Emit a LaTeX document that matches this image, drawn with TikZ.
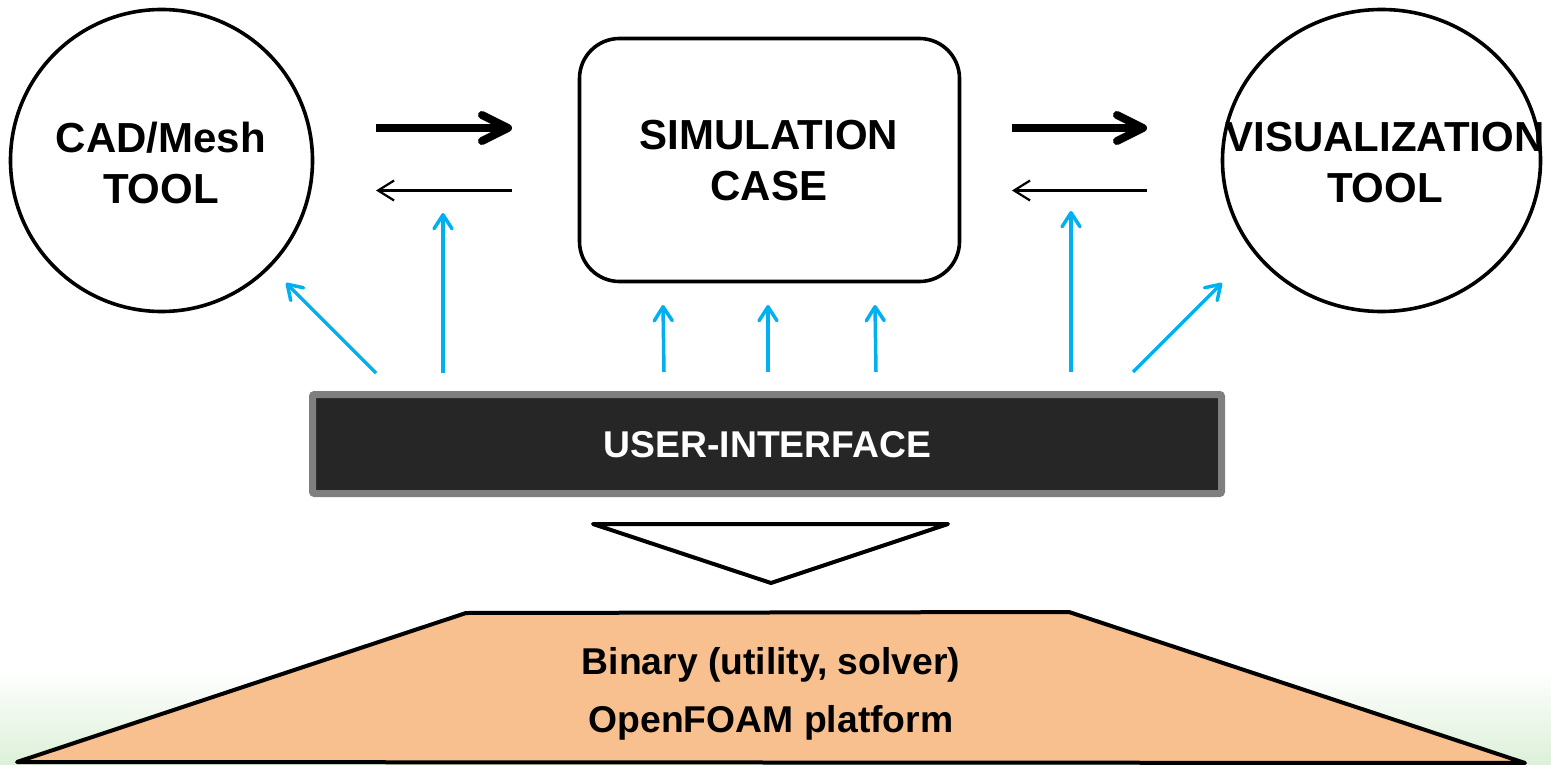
\documentclass[tikz,border=0pt]{standalone}
\usepackage{fontspec}
\setmainfont{Liberation Sans}
\usetikzlibrary{arrows.meta,shapes.geometric}
\definecolor{uiblue}{RGB}{0,176,240}
\definecolor{barfill}{RGB}{38,38,38}
\definecolor{barrim}{RGB}{127,127,127}
\definecolor{basefill}{RGB}{248,192,143}
\definecolor{groundgreen}{RGB}{220,240,216}
\tikzset{
  toolshape/.style={draw, line width=3.6pt, inner sep=0pt, outer sep=0pt},
  bigtext/.style={font=\fontsize{42}{51}\selectfont\bfseries, align=center},
  labeltext/.style={font=\fontsize{37.3}{44}\selectfont\bfseries, anchor=base},
  flowfwd/.style={line width=8pt, -{Straight Barb[length=26pt,width=26pt,round]}},
  flowback/.style={line width=2.2pt, -{Straight Barb[length=16pt,width=20pt]}},
  control/.style={uiblue, line width=3.5pt, -{Straight Barb[length=14pt,width=18pt,round]}},
  outline/.style={draw, line width=4pt, line join=round},
}
\begin{document}
\begin{tikzpicture}[x=1pt,y=-1pt]
\useasboundingbox (0,0) rectangle (1551,765);
% soft green ground at the foot of the page
\shade[top color=white, bottom color=groundgreen] (0,670) rectangle (1551,765);

% the three tools / case
\node[toolshape, circle, minimum size=302pt] (cad) at (161.5,160.5) {};
\node[bigtext] (cadtext) at (161,162.5) {CAD/Mesh\\TOOL};
\node[toolshape, rectangle, rounded corners=40pt, minimum width=380pt, minimum height=243pt] (case) at (769.5,160) {};
\node[bigtext] (casetext) at (769,160.5) {SIMULATION\\CASE};
\node[toolshape, ellipse, minimum width=318pt, minimum height=302pt] (vis) at (1381.5,160.5) {};
\node[bigtext] (vistext) at (1385,162.5) {VISUALIZATION\\TOOL};

% data flow between tools
\coordinate (f1s) at (376,128);   \coordinate (f1e) at (512,128);
\coordinate (f2s) at (1012,128);  \coordinate (f2e) at (1147,128);
\coordinate (b1s) at (512,190.5); \coordinate (b1e) at (376,190.5);
\coordinate (b2s) at (1147,190.5);\coordinate (b2e) at (1012,190.5);
\draw[flowfwd] (f1s) -- (f1e);
\draw[flowfwd] (f2s) -- (f2e);
\draw[flowback] (b1s) -- (b1e);
\draw[flowback] (b2s) -- (b2e);

% user interface bar
\node[draw=barrim, fill=barfill, line width=7pt, rounded corners=2pt, inner sep=0pt, outer sep=0pt,
      minimum width=909pt, minimum height=99pt] (ui) at (767,444) {};
\node[labeltext, text=white] (uitext) at (767.5,457) {USER-INTERFACE};

% controls from the interface
\coordinate (c1s) at (376,373);  \coordinate (c1e) at (286,283);
\coordinate (c2s) at (443,373);  \coordinate (c2e) at (443,213);
\coordinate (c3s) at (664,372);  \coordinate (c3e) at (663,305);
\coordinate (c4s) at (768,372);  \coordinate (c4e) at (768,305);
\coordinate (c5s) at (876,372);  \coordinate (c5e) at (875,305);
\coordinate (c6s) at (1071,372); \coordinate (c6e) at (1071,211);
\coordinate (c7s) at (1133,372); \coordinate (c7e) at (1222,283);
\foreach \i in {1,...,7} { \draw[control] (c\i s) -- (c\i e); }

% hollow arrow down to the platform
\coordinate (tl) at (593,524); \coordinate (tr) at (948,524); \coordinate (tp) at (771,583);
\draw[outline, fill=white] (tl) -- (tr) -- (tp) -- cycle;

% platform base
\coordinate (pbl) at (17,762);  \coordinate (ptl) at (466,613);
\coordinate (ptr) at (1069,612);\coordinate (pbr) at (1525,763);
\draw[outline, fill=basefill] (pbl) -- (ptl) -- (ptr) -- (pbr) -- cycle;
\node[labeltext] (bintext) at (771,674) {Binary (utility, solver)};
\node[labeltext] (foamtext) at (771,732) {OpenFOAM platform};
\end{tikzpicture}
\end{document}
